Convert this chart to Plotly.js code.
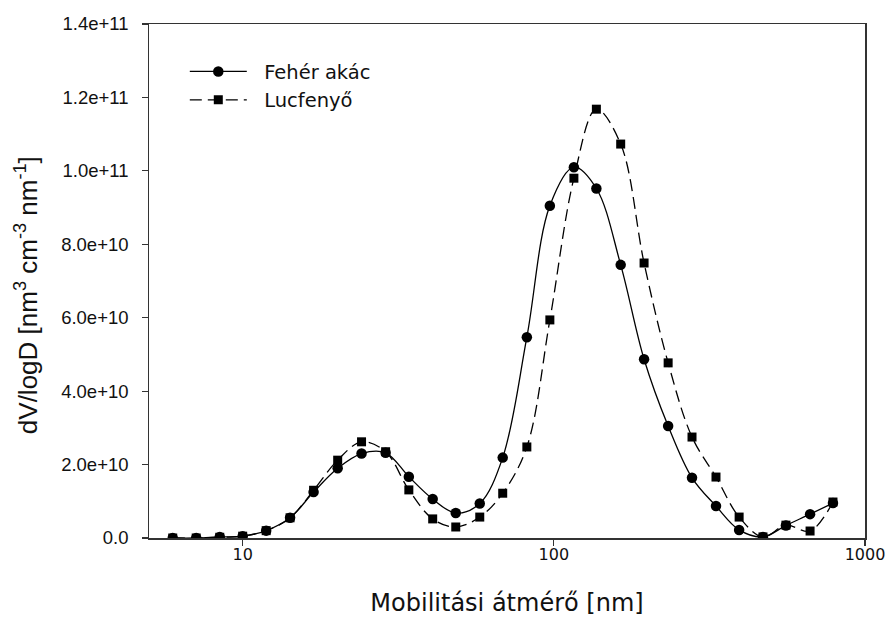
<!DOCTYPE html>
<html>
<head>
<meta charset="utf-8">
<script src="https://cdn.plot.ly/plotly-3.0.1.min.js"></script>
<style>
  html, body { margin: 0; padding: 0; background: #fff; }
  #chart { width: 888px; height: 617px; }
</style>
</head>
<body>
<div id="chart"></div>
<script>
// Mobility diameter bins [nm]
const diameters = [5.96, 7.09, 8.44, 10.0, 11.9, 14.2, 16.9, 20.2, 24.1, 28.8,
  34.2, 40.8, 48.4, 57.8, 68.5, 81.9, 97.1, 116, 137, 164,
  195, 233, 278, 332, 394, 470, 557, 666, 789];

// Volume size distribution, dV/logD [nm^3 cm^-3 nm^-1]
const feherAkac = [0.0, 0.0, 0.03e10, 0.05e10, 0.2e10, 0.55e10, 1.25e10, 1.9e10, 2.3e10, 2.32e10,
  1.67e10, 1.06e10, 0.68e10, 0.94e10, 2.19e10, 5.47e10, 9.05e10, 10.1e10, 9.52e10, 7.44e10,
  4.87e10, 3.05e10, 1.64e10, 0.87e10, 0.22e10, 0.03e10, 0.34e10, 0.65e10, 0.95e10];

const lucfenyo = [0.0, 0.0, 0.02e10, 0.05e10, 0.2e10, 0.55e10, 1.3e10, 2.12e10, 2.62e10, 2.35e10,
  1.31e10, 0.52e10, 0.3e10, 0.57e10, 1.22e10, 2.48e10, 5.94e10, 9.8e10, 11.68e10, 10.73e10,
  7.49e10, 4.77e10, 2.75e10, 1.66e10, 0.57e10, 0.03e10, 0.35e10, 0.19e10, 0.98e10];

const seriesNames = ['Fehér akác', 'Lucfenyő'];

const yTickVals = [0, 2e10, 4e10, 6e10, 8e10, 1e11, 1.2e11, 1.4e11];
const yTickText = ['0.0', '2.0e+10', '4.0e+10', '6.0e+10', '8.0e+10', '1.0e+11', '1.2e+11', '1.4e+11'];
const xTickVals = [10, 100, 1000];
const xTickText = ['10', '100', '1000'];

const xTitle = 'Mobilitási átmérő [nm]';
const yTitle = 'dV/logD [nm<sup>3</sup> cm<sup>-3</sup> nm<sup>-1</sup>]';

const sansWide = 'DejaVu Sans, Verdana, sans-serif';
const sansArial = 'Liberation Sans, Arial, sans-serif';

// small gap between the legend glyph and its label
const legendPad = '\u00a0\u00a0';
// extra room between the y tick marks and their labels
const yLabelPad = '\u2002';

const traces = [
  {
    x: diameters, y: feherAkac, name: legendPad + seriesNames[0],
    type: 'scatter', mode: 'lines+markers',
    line: { color: '#000', width: 1.3, shape: 'spline', smoothing: 1 },
    marker: { symbol: 'circle', size: 10.5, color: '#000' }
  },
  {
    x: diameters, y: lucfenyo, name: legendPad + seriesNames[1],
    type: 'scatter', mode: 'lines+markers',
    line: { color: '#000', width: 1.3, shape: 'spline', smoothing: 1, dash: '12px,6px' },
    marker: { symbol: 'square', size: 9, color: '#000' }
  }
];

const axisCommon = {
  showgrid: false, zeroline: false,
  showline: true, linecolor: '#333', linewidth: 1.5, mirror: true,
  ticks: 'outside', ticklen: 6, tickwidth: 1.2, tickcolor: '#333'
};

const layout = {
  width: 888, height: 617,
  paper_bgcolor: '#fff', plot_bgcolor: '#fff',
  margin: { l: 149, r: 23, t: 24, b: 79 },
  showlegend: true,
  legend: {
    x: 0.05, y: 0.945, xanchor: 'left', yanchor: 'top',
    bgcolor: 'rgba(0,0,0,0)', borderwidth: 0,
    font: { family: sansWide, size: 19.5, color: '#111' },
    itemwidth: 57, tracegroupgap: 0
  },
  xaxis: Object.assign({}, axisCommon, {
    type: 'log', range: [Math.log10(5), 3],
    tickvals: xTickVals, ticktext: xTickText,
    tickfont: { family: sansWide, size: 16, color: '#111' },
    ticklabelstandoff: -5,
    title: { text: xTitle, font: { family: sansWide, size: 24, color: '#111' }, standoff: 34 }
  }),
  yaxis: Object.assign({}, axisCommon, {
    range: [0, 1.4e11],
    tickvals: yTickVals, ticktext: yTickText.map(t => t + yLabelPad),
    tickfont: { family: sansArial, size: 18.5, color: '#111' }
  }),
  annotations: [
    {
      text: yTitle, textangle: -90,
      xref: 'paper', yref: 'paper',
      x: -0.17, y: 0.473, xanchor: 'center', yanchor: 'middle',
      showarrow: false,
      font: { family: sansArial, size: 26, color: '#111' }
    }
  ]
};

Plotly.newPlot('chart', traces, layout, { staticPlot: true, displayModeBar: false });
</script>
</body>
</html>
